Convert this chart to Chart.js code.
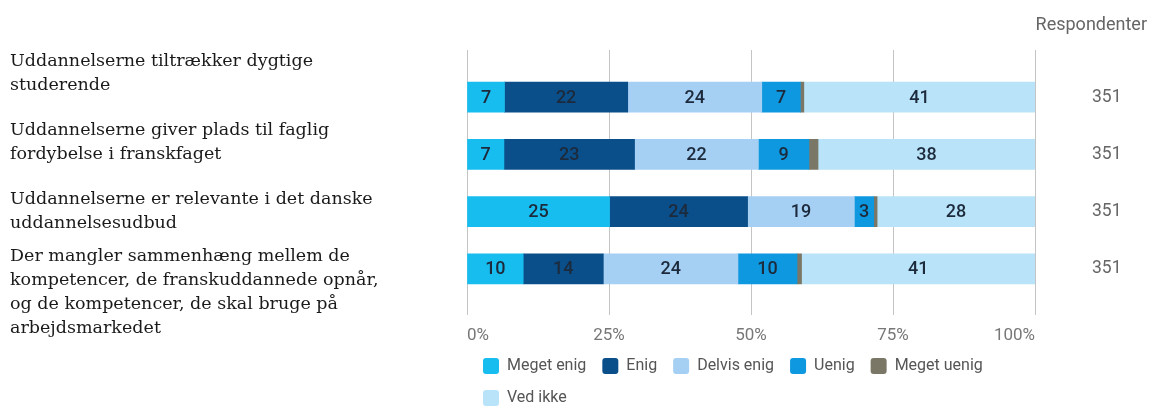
<!DOCTYPE html>
<html lang="da">
<head>
<meta charset="utf-8">
<title>Respondenter</title>
<script src="https://cdn.jsdelivr.net/npm/chart.js@4.4.1/dist/chart.umd.min.js"></script>
<style>
  html, body { margin: 0; padding: 0; background: #fff; }
  #wrap { width: 1151px; height: 406px; }
</style>
</head>
<body>
<div id="wrap"><canvas id="surveyChart" width="1151" height="406"></canvas></div>
<script>
// statements, already wrapped into lines
const statements = [
  ['Uddannelserne tiltrækker dygtige', 'studerende'],
  ['Uddannelserne giver plads til faglig', 'fordybelse i franskfaget'],
  ['Uddannelserne er relevante i det danske', 'uddannelsesudbud'],
  ['Der mangler sammenhæng mellem de', 'kompetencer, de franskuddannede opnår,', 'og de kompetencer, de skal bruge på', 'arbejdsmarkedet']
];
const respondents = [351, 351, 351, 351];

const answers = ['Meget enig', 'Enig', 'Delvis enig', 'Uenig', 'Meget uenig', 'Ved ikke'];

// share of respondents (%) per statement
const megetEnig  = [6.6, 6.5, 25.1, 9.9];
const enig       = [21.7, 23.0, 24.3, 14.1];
const delvisEnig = [23.6, 21.8, 18.8, 23.7];
const uenig      = [6.8, 8.9, 3.4, 10.4];
const megetUenig = [0.6, 1.6, 0.6, 0.8];
const vedIkke    = [40.7, 38.2, 27.8, 41.1];

const percentTicks = [0, 25, 50, 75, 100];

const answerColors = ['#18bdf0', '#0b4f8a', '#a6cff4', '#0e98df', '#7b7766', '#b9e3f8'];
const series = [megetEnig, enig, delvisEnig, uenig, megetUenig, vedIkke];

const gridColor = '#c4c4c4';

// numbers written inside each segment (tiny segments stay blank)
const segmentLabels = {
  id: 'segmentLabels',
  afterDatasetsDraw(chart) {
    const ctx = chart.ctx;
    ctx.save();
    ctx.font = '500 18px Roboto';
    ctx.fillStyle = '#1c2a3c';
    ctx.textAlign = 'center';
    ctx.textBaseline = 'middle';
    chart.data.datasets.forEach((ds, i) => {
      chart.getDatasetMeta(i).data.forEach((bar, j) => {
        const v = ds.data[j];
        if (v < 2) return;
        const p = bar.getCenterPoint();
        ctx.fillText(String(Math.round(v)), p.x, p.y + 1);
      });
    });
    ctx.restore();
  }
};

const setPercentTicks = scale => {
  scale.ticks = percentTicks.map(v => ({ value: v }));
};

new Chart(document.getElementById('surveyChart'), {
  type: 'bar',
  data: {
    labels: statements,
    datasets: answers.map((name, i) => ({
      label: name,
      data: series[i],
      backgroundColor: answerColors[i],
      borderWidth: 0,
      barThickness: 30
    }))
  },
  options: {
    indexAxis: 'y',
    responsive: false,
    animation: false,
    layout: { padding: { left: 10, right: 4, top: 0, bottom: -10 } },
    scales: {
      x: {
        stacked: true,
        min: 0,
        max: 100,
        afterBuildTicks: setPercentTicks,
        afterFit(scale) { scale.height = 44.6; },
        border: { display: false },
        grid: { color: gridColor, tickLength: 17.6, tickColor: gridColor },
        ticks: {
          align: 'inner',
          padding: 11,
          color: '#777',
          font: { family: 'Roboto', size: 17 },
          callback: v => v + '%'
        }
      },
      // top axis only carries the short grid ticks above the bars
      x2: {
        position: 'top',
        min: 0,
        max: 100,
        afterBuildTicks: setPercentTicks,
        border: { display: false },
        grid: { color: gridColor, drawOnChartArea: false, tickLength: 18.6, tickColor: gridColor },
        ticks: { display: false }
      },
      y: {
        stacked: true,
        border: { display: false },
        grid: { display: false, drawTicks: false },
        afterFit(scale) {
          scale.width = 457;
          scale.paddingTop = 0;
          scale.paddingBottom = 0;
        },
        ticks: {
          autoSkip: false,
          crossAlign: 'far',
          padding: 0,
          color: '#1a1a1a',
          font: { family: 'DejaVu Serif', size: 17.5, lineHeight: 1.37 },
          callback(value, index) {
            const lines = statements[index];
            // blank lines nudge the wrapped text up or down
            if (index === 0) return [...lines, '', ''];
            if (index === 1) return [...lines, ''];
            if (index === 3) return ['', '', ...lines];
            return lines;
          }
        }
      },
      y2: {
        type: 'category',
        position: 'right',
        offset: true,
        labels: respondents.map(String),
        border: { display: false },
        grid: { display: false, drawTicks: false },
        afterFit(scale) {
          scale.width = 112;
          scale.paddingTop = 0;
          scale.paddingBottom = 0;
        },
        ticks: {
          autoSkip: false,
          padding: 57,
          color: '#666',
          font: { family: 'Roboto', size: 17.5 }
        }
      }
    },
    plugins: {
      title: {
        display: true,
        text: 'Respondenter',
        align: 'end',
        color: '#666',
        font: { family: 'Roboto', size: 18, weight: 'normal', lineHeight: 1.2 },
        padding: { top: 14.2, bottom: 14.2 }
      },
      legend: {
        position: 'bottom',
        align: 'start',
        fullSize: false,
        labels: {
          boxWidth: 16,
          boxHeight: 16,
          padding: 16,
          useBorderRadius: true,
          borderRadius: 3,
          color: '#555',
          font: { family: 'Roboto', size: 16 }
        }
      },
      tooltip: { enabled: false }
    }
  },
  plugins: [segmentLabels]
});
</script>
</body>
</html>
